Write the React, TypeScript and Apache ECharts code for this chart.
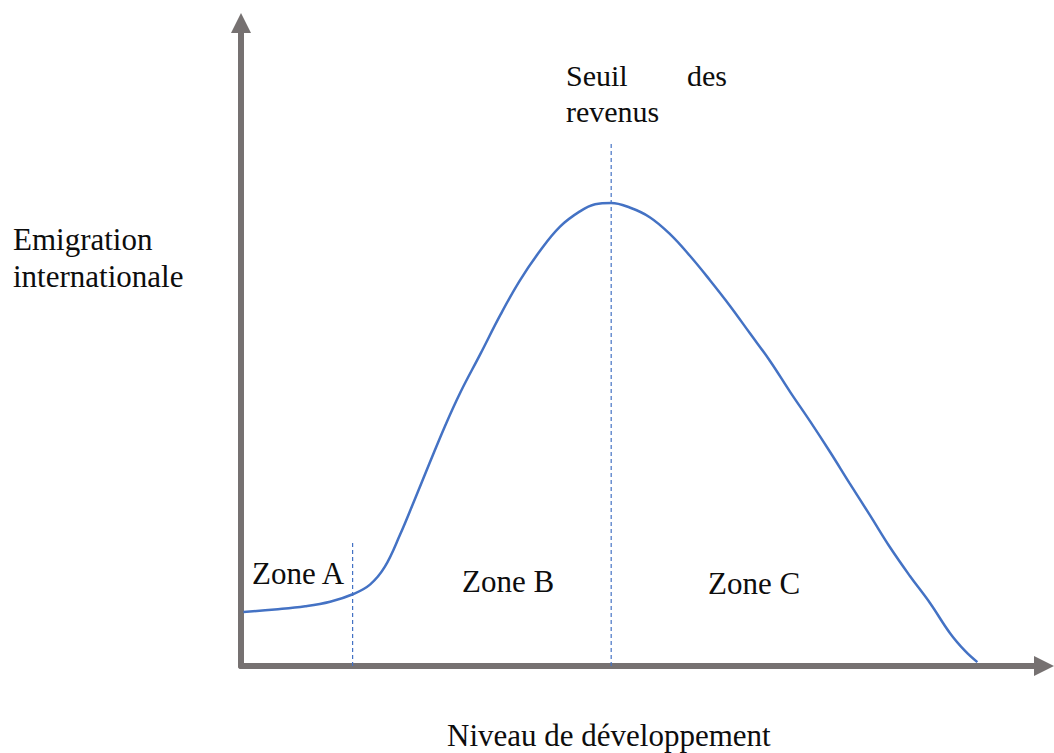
import React, { useEffect, useRef } from "react";
import * as echarts from "echarts";

// Curve: development level (x, 0–100) vs international emigration (y, 0–100)
const curveX = [0.3, 4.2, 8.0, 11.1, 14.0, 16.1, 17.9, 19.8, 21.7, 23.5, 25.4, 27.3, 29.8, 32.3, 34.7, 37.2, 39.7, 42.2, 44.1, 46.1, 48.4, 50.9, 53.4, 55.9, 58.4, 60.9, 63.4, 65.9, 68.4, 70.9, 73.4, 75.8, 78.3, 80.8, 83.3, 85.8, 88.3, 90.2, 91.7];
const curveY = [8.4, 8.8, 9.3, 10.0, 11.2, 12.7, 15.4, 20.4, 26.1, 31.6, 37.3, 42.5, 48.5, 54.6, 59.9, 64.5, 68.3, 70.7, 71.8, 72.0, 71.3, 69.8, 67.2, 63.8, 60.0, 56.0, 51.7, 47.4, 42.6, 38.0, 33.2, 28.4, 23.5, 18.5, 14.0, 9.8, 5.1, 2.3, 0.6];

// Dashed separators: [x, topY]
const zoneABoundary = [13.9, 19.3];
const incomeThreshold = [46.1, 81.3];

const yTitle = ["Emigration", "internationale"];
const xTitle = "Niveau de développement";
const zoneLabels = ["Zone A", "Zone B", "Zone C"];
const thresholdWords = ["Seuil", "des", "revenus"];

const FAMILY = "Liberation Serif";
const AXIS_COLOR = "#767171";
const BLUE = "#4472C4";

export default function App() {
  const ref = useRef<HTMLDivElement>(null);
  useEffect(() => {
    if (!ref.current) return;
    const chart = echarts.init(ref.current, null, { renderer: "svg" });
    const txt = (text: string, x: number, baseline: number, size = 31) => ({
      type: "text",
      x,
      y: baseline + 2 - size * 0.3375,
      style: {
        text,
        fontFamily: FAMILY,
        fontSize: size,
        fill: "#0d0d0d",
        verticalAlign: "middle",
        align: "left",
      },
    });
    chart.setOption({
      animation: false,
      backgroundColor: "#fff",
      grid: { left: 241, top: 23, right: 10, bottom: 87 },
      xAxis: {
        type: "value",
        min: 0,
        max: 100,
        axisLine: {
          show: true,
          symbol: ["none", "triangle"],
          symbolSize: [20, 20],
          lineStyle: { color: AXIS_COLOR, width: 6 },
        },
        axisTick: { show: false },
        axisLabel: { show: false },
        splitLine: { show: false },
      },
      yAxis: {
        type: "value",
        min: 0,
        max: 100,
        axisLine: {
          show: true,
          symbol: ["none", "triangle"],
          symbolSize: [20, 20],
          lineStyle: { color: AXIS_COLOR, width: 6 },
        },
        axisTick: { show: false },
        axisLabel: { show: false },
        splitLine: { show: false },
      },
      series: [
        {
          type: "line",
          data: curveX.map((x, i) => [x, curveY[i]]),
          smooth: 0.4,
          showSymbol: false,
          lineStyle: { color: BLUE, width: 2.5 },
          z: 3,
        },
        {
          type: "line",
          data: [[zoneABoundary[0], 0], [zoneABoundary[0], zoneABoundary[1]]],
          showSymbol: false,
          lineStyle: { color: BLUE, width: 1.2, type: [4, 3] },
          z: 2,
        },
        {
          type: "line",
          data: [[incomeThreshold[0], 0], [incomeThreshold[0], incomeThreshold[1]]],
          showSymbol: false,
          lineStyle: { color: BLUE, width: 1.2, type: [4, 3] },
          z: 2,
        },
      ],
      graphic: [
        txt(yTitle[0], 13, 248),
        txt(yTitle[1], 13, 285),
        txt(thresholdWords[0], 566, 84, 30),
        txt(thresholdWords[1], 687, 84, 30),
        txt(thresholdWords[2], 566, 120, 30),
        txt(zoneLabels[0], 252, 582),
        txt(zoneLabels[1], 462, 590),
        txt(zoneLabels[2], 708, 592),
        txt(xTitle, 447, 744),
      ],
    });
    return () => chart.dispose();
  }, []);
  return (
    <div
      ref={ref}
      style={{ position: "absolute", left: 0, top: 0, width: 1054, height: 753 }}
    />
  );
}
